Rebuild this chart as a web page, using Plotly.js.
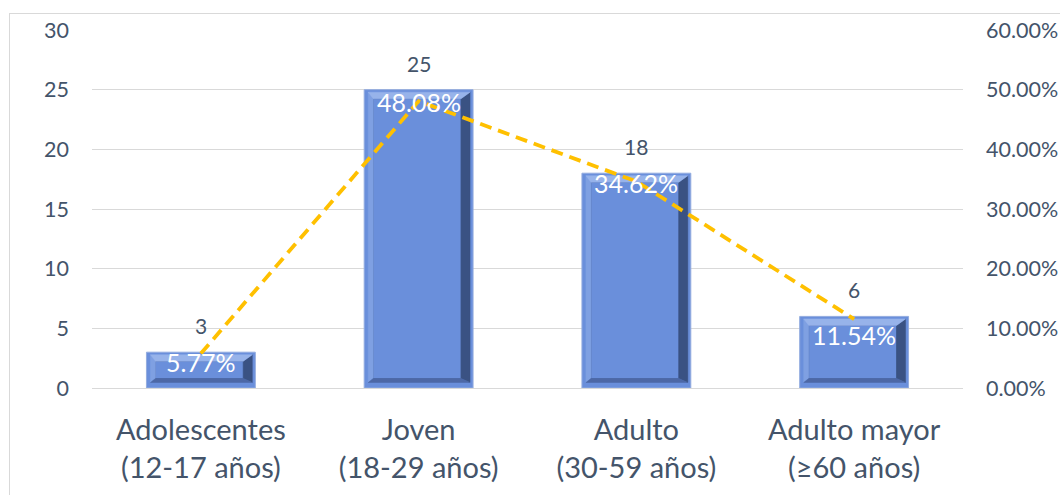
<!DOCTYPE html>
<html>
<head>
<meta charset="utf-8">
<script src="https://cdn.plot.ly/plotly-3.0.1.min.js"></script>
<style>
  html, body { margin: 0; padding: 0; background: #ffffff; overflow: hidden; }
  #wrap { position: relative; width: 1060px; height: 495px; }
  #chart { position: absolute; left: 0; top: 0; width: 1060px; height: 495px; }
  #frame { position: absolute; left: 9px; top: 13px; width: 1200px; height: 600px;
           border: 1px solid #d9d9d9; pointer-events: none; box-sizing: border-box; }
</style>
</head>
<body>
<div id="wrap">
  <div id="chart"></div>
  <div id="frame"></div>
</div>
<script>
// Age groups, number of people and share of the total
const categories = [
  'Adolescentes<br>(12-17 años)',
  'Joven<br>(18-29 años)',
  'Adulto<br>(30-59 años)',
  'Adulto mayor<br>(≥60 años)'
];
const counts = [3, 25, 18, 6];
const shares = [0.0577, 0.4808, 0.3462, 0.1154];
const countTicks = [0, 5, 10, 15, 20, 25, 30];
const shareTicks = [0, 0.1, 0.2, 0.3, 0.4, 0.5, 0.6];

// Geometry of the drawing area
const W = 1060, H = 495;
const M = { l: 92, r: 97, t: 30, b: 107 };
const X_RANGE = [-0.5, categories.length - 0.5];
const Y_RANGE = [0, 30];
const Y2_RANGE = [0, 0.6];
const BAR_WIDTH = 0.5;

const TEXT = '#44546a';
const GRID = '#d9d9d9';
const FONT = 'Lato, "Open Sans", sans-serif';

// vertical nudges (px) of the percentage labels, so the small ones sit inside their bars
const SHARE_LABEL_SHIFT = [-8, -1, -2, -16];

// pixel -> axis unit helpers, used for the bevel depth of each bar
const pxX = (X_RANGE[1] - X_RANGE[0]) / (W - M.l - M.r);
const pxY = (Y_RANGE[1] - Y_RANGE[0]) / (H - M.t - M.b);

// bevel: outer rim, then the sloped face on each side (in pixels)
const RIM = { l: 4, r: 3, t: 2.5, b: 5.5 };
const BEVEL = { l: 5, r: 9, t: 6.5, b: 4 };

const xs = categories.map((_, i) => i);

function bevelPolys(side) {
  const px = [], py = [];
  counts.forEach((v, i) => {
    const h = BAR_WIDTH / 2;
    const X0 = xs[i] - h + RIM.l * pxX, X1 = xs[i] + h - RIM.r * pxX;
    const Y0 = RIM.b * pxY, Y1 = v - RIM.t * pxY;
    const x0 = X0 + BEVEL.l * pxX, x1 = X1 - BEVEL.r * pxX;
    const y0 = Y0 + BEVEL.b * pxY, y1 = Y1 - BEVEL.t * pxY;
    let pts;
    if (side === 'top') pts = [[X0, Y1], [X1, Y1], [x1, y1], [x0, y1]];
    else if (side === 'bottom') pts = [[X0, Y0], [X1, Y0], [x1, y0], [x0, y0]];
    else if (side === 'left') pts = [[X0, Y0], [X0, Y1], [x0, y1], [x0, y0]];
    else if (side === 'right') pts = [[X1, Y0], [X1, Y1], [x1, y1], [x1, y0]];
    else pts = [[x0, y0], [x0, y1], [x1, y1], [x1, y0]];
    pts.push(pts[0]);
    pts.forEach(p => { px.push(p[0]); py.push(p[1]); });
    px.push(null); py.push(null);
  });
  return { x: px, y: py };
}

function bevelTrace(side, color, lineColor, lineWidth) {
  const p = bevelPolys(side);
  return {
    type: 'scatter', mode: 'lines', x: p.x, y: p.y,
    fill: 'toself', fillcolor: color,
    line: { color: lineColor || color, width: lineWidth || 0.5 },
    hoverinfo: 'skip', showlegend: false, xaxis: 'x', yaxis: 'y'
  };
}

const bars = {
  type: 'bar', x: xs, y: counts, width: BAR_WIDTH,
  marker: { color: '#6a8fdb', line: { color: '#93acdf', width: 1 } },
  hoverinfo: 'skip', showlegend: false
};

const shareLine = {
  type: 'scatter', mode: 'lines', x: xs, y: shares, yaxis: 'y2',
  line: { color: '#ffc000', width: 3.8, dash: '12px,7px' },
  cliponaxis: false, hoverinfo: 'skip', showlegend: false
};

const countLabels = counts.map((v, i) => ({
  x: xs[i], y: v, xref: 'x', yref: 'y', text: String(v),
  showarrow: false, yanchor: 'bottom', yshift: 12,
  font: { family: FONT, size: 21, color: TEXT }
}));

const shareLabels = shares.map((v, i) => ({
  x: xs[i], y: v, xref: 'x', yref: 'y2',
  text: (v * 100).toFixed(2) + '%',
  showarrow: false, yanchor: 'middle', yshift: SHARE_LABEL_SHIFT[i],
  font: { family: FONT, size: 25, color: '#ffffff' }
}));

const data = [
  bars,
  bevelTrace('face', '#6a8fdb', '#4e6aa8', 0.8),
  bevelTrace('left', '#7fa0e2'),
  bevelTrace('right', '#3a5283'),
  bevelTrace('bottom', '#4d68a6'),
  bevelTrace('top', '#97b3ea'),
  shareLine
];

const layout = {
  width: W, height: H, margin: M,
  paper_bgcolor: '#ffffff', plot_bgcolor: '#ffffff',
  font: { family: FONT, color: TEXT },
  showlegend: false,
  xaxis: {
    range: X_RANGE, tickvals: xs, ticktext: categories,
    showgrid: false, zeroline: false, showline: false, ticks: '',
    tickfont: { family: FONT, size: 29, color: TEXT },
    ticklabelstandoff: 22, fixedrange: true
  },
  yaxis: {
    range: Y_RANGE, tickvals: countTicks,
    showgrid: true, gridcolor: GRID, gridwidth: 1,
    zeroline: true, zerolinecolor: GRID, zerolinewidth: 1,
    showline: false, ticks: '',
    tickfont: { family: FONT, size: 21.5, color: TEXT },
    ticklabelstandoff: 22, fixedrange: true
  },
  yaxis2: {
    range: Y2_RANGE, tickvals: shareTicks, tickformat: '.2%',
    overlaying: 'y', side: 'right',
    showgrid: false, zeroline: false, showline: false, ticks: '',
    tickfont: { family: FONT, size: 21.5, color: TEXT },
    ticklabelstandoff: 22, fixedrange: true
  },
  annotations: countLabels.concat(shareLabels)
};

Plotly.newPlot('chart', data, layout, { displayModeBar: false, staticPlot: true });
</script>
</body>
</html>
